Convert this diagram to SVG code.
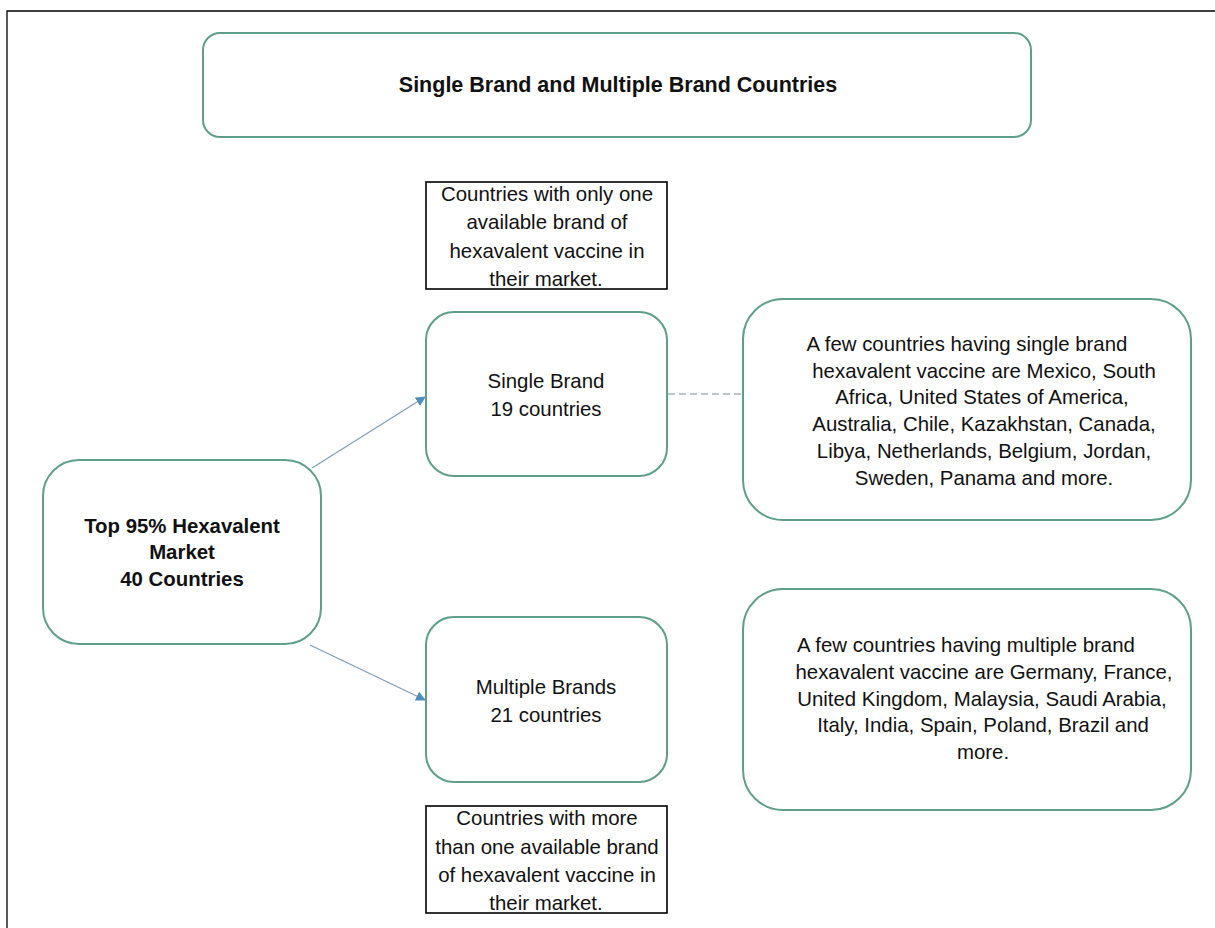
<svg xmlns="http://www.w3.org/2000/svg" width="1215" height="928" viewBox="0 0 1215 928">
  <style>
    .node { fill: #ffffff; stroke: #5f9e8a; stroke-width: 2; }
    .note { fill: #ffffff; stroke: #000000; stroke-width: 1.6; }
    .t { font-family: "Liberation Sans", Arial, sans-serif; font-size: 20.4px; fill: #111111; text-anchor: middle; dominant-baseline: central; }
    .b { font-weight: bold; }
    .arrow { stroke: #7f9db5; stroke-width: 1.2; fill: none; }
    .dash { stroke: #a9b3b8; stroke-width: 1.3; stroke-dasharray: 7 4; fill: none; }
  </style>
  <defs>
    <marker id="head" viewBox="0 0 10 10" refX="9" refY="5" markerWidth="10" markerHeight="10" markerUnits="userSpaceOnUse" orient="auto">
      <path d="M0,0 L10,5 L0,10 z" fill="#4f8fbf"/>
    </marker>
  </defs>
  <rect width="1215" height="928" fill="#ffffff"/>
  <!-- page frame -->
  <path d="M7,928 L7,11 L1215,11" fill="none" stroke="#000000" stroke-width="1.3"/>

  <g id="title">
    <rect class="node" x="203" y="33" width="828" height="104" rx="17"/>
    <text class="t b" x="618" y="85" style="font-size:21.5px">Single Brand and Multiple Brand Countries</text>
  </g>

  <g id="connectors">
    <line class="arrow" x1="312" y1="468" x2="425" y2="397" marker-end="url(#head)"/>
    <line class="arrow" x1="310" y1="645" x2="425" y2="700" marker-end="url(#head)"/>
    <line class="dash" x1="668" y1="394" x2="743" y2="394"/>
  </g>

  <g id="market">
    <rect class="node" x="43" y="460" width="278" height="184" rx="36"/>
    <text class="t b" x="182" y="526">Top 95% Hexavalent</text>
    <text class="t b" x="182" y="552">Market</text>
    <text class="t b" x="182" y="579">40 Countries</text>
  </g>

  <g id="single-note">
    <rect class="note" x="426" y="182" width="241" height="107"/>
    <text class="t" x="547" y="194">Countries with only one</text>
    <text class="t" x="547" y="222">available brand of</text>
    <text class="t" x="547" y="251">hexavalent vaccine in</text>
    <text class="t" x="546" y="279">their market.</text>
  </g>

  <g id="single">
    <rect class="node" x="426" y="312" width="241" height="164" rx="28"/>
    <text class="t" x="546" y="381">Single Brand</text>
    <text class="t" x="546" y="409">19 countries</text>
  </g>

  <g id="multiple">
    <rect class="node" x="426" y="617" width="241" height="165" rx="28"/>
    <text class="t" x="546" y="687">Multiple Brands</text>
    <text class="t" x="546" y="715">21 countries</text>
  </g>

  <g id="multiple-note">
    <rect class="note" x="426" y="806" width="241" height="107"/>
    <text class="t" x="547" y="818">Countries with more</text>
    <text class="t" x="547" y="847">than one available brand</text>
    <text class="t" x="547" y="875">of hexavalent vaccine in</text>
    <text class="t" x="546" y="903">their market.</text>
  </g>

  <g id="single-examples">
    <rect class="node" x="743" y="299" width="448" height="221" rx="40"/>
    <text class="t" x="967" y="344">A few countries having single brand</text>
    <text class="t" x="984" y="371">hexavalent vaccine are Mexico, South</text>
    <text class="t" x="982" y="397">Africa, United States of America,</text>
    <text class="t" x="984" y="424">Australia, Chile, Kazakhstan, Canada,</text>
    <text class="t" x="984" y="451">Libya, Netherlands, Belgium, Jordan,</text>
    <text class="t" x="984" y="478">Sweden, Panama and more.</text>
  </g>

  <g id="multiple-examples">
    <rect class="node" x="743" y="589" width="448" height="221" rx="40"/>
    <text class="t" x="966" y="645">A few countries having multiple brand</text>
    <text class="t" x="984" y="672">hexavalent vaccine are Germany, France,</text>
    <text class="t" x="982" y="699">United Kingdom, Malaysia, Saudi Arabia,</text>
    <text class="t" x="983" y="725">Italy, India, Spain, Poland, Brazil and</text>
    <text class="t" x="983" y="752">more.</text>
  </g>
</svg>
